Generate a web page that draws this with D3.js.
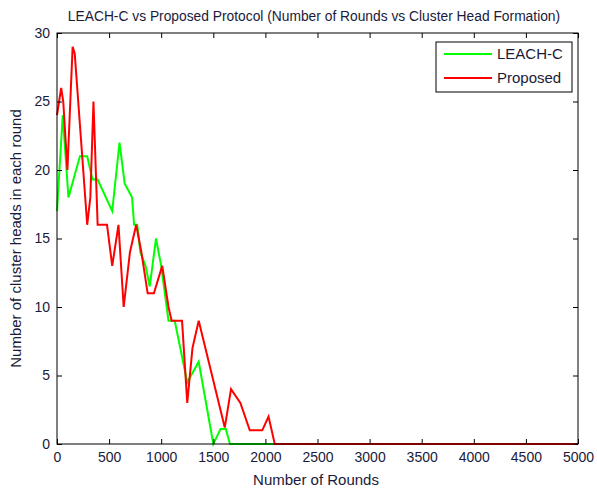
<!DOCTYPE html>
<html><head><meta charset="utf-8">
<script src="https://cdn.jsdelivr.net/npm/d3@7"></script>
<style>body{margin:0;background:#fff}svg text{font-family:"Liberation Sans",Arial,sans-serif}</style>
</head><body><svg id="c" width="597" height="488"></svg>
<script>
const xTicks=[0,500,1000,1500,2000,2500,3000,3500,4000,4500,5000];
const yTicks=[0,5,10,15,20,25,30];
const leachRounds=[0,55,110,220,290,340,390,530,600,650,720,740,770,800,850,890,950,1000,1070,1130,1250,1360,1500,1570,1620,1660,5000];
const leachCH=[17,24,18,21,21,19.3,19.3,17,22,19,18,16,16,14,13,11.5,15,13,9,9,4.5,6,0,1.1,1.1,0,0];
const propRounds=[0,20,40,60,100,150,170,290,320,350,390,480,530,590,640,700,760,810,870,930,1010,1070,1100,1200,1250,1300,1360,1610,1670,1760,1850,1970,2030,2090,5000];
const propCH=[24,25,26,25,20,29,28.5,16,18,25,16,16,13,16,10,14,16,14,11,11,13,10,9,9,3,7,9,1.2,4,3,1,1,2,0,0];
const seriesNames=["LEACH-C","Proposed"];

const svg=d3.select("#c");
const L=57,R=578,T=33,B=444;
const x=d3.scaleLinear().domain([0,5000]).range([L,R]);
const y=d3.scaleLinear().domain([0,30]).range([B,T]);
const txtCol="#1a1a3a";

const line=d3.line().x(d=>x(d[0])).y(d=>y(d[1]));
const g1=leachRounds.map((r,i)=>[r,leachCH[i]]);
const g2=propRounds.map((r,i)=>[r,propCH[i]]);

svg.append("path").datum(g1).attr("d",line).attr("fill","none").attr("stroke","#00ff00").attr("stroke-width",2);
svg.append("path").datum(g2).attr("d",line).attr("fill","none").attr("stroke","#ff0000").attr("stroke-width",2);

svg.append("rect").attr("x",L).attr("y",T).attr("width",R-L).attr("height",B-T).attr("fill","none").attr("stroke","#000").attr("stroke-width",1);

const xb=svg.append("g").attr("transform",`translate(0,${B})`).call(d3.axisBottom(x).tickValues(xTicks).tickSize(-5).tickPadding(8).tickFormat(d3.format("d")));
const xt=svg.append("g").attr("transform",`translate(0,${T})`).call(d3.axisTop(x).tickValues(xTicks).tickSize(-5).tickFormat(""));
const yl=svg.append("g").attr("transform",`translate(${L},0)`).call(d3.axisLeft(y).tickValues(yTicks).tickSize(-5).tickPadding(7));
const yr=svg.append("g").attr("transform",`translate(${R},0)`).call(d3.axisRight(y).tickValues(yTicks).tickSize(-5).tickFormat(""));
[xb,xt,yl,yr].forEach(a=>{a.select(".domain").remove();a.selectAll("line").attr("stroke","#000");a.selectAll("text").attr("fill",txtCol).style("font-size","14px");});

svg.append("text").attr("x",314).attr("y",21).attr("text-anchor","middle").attr("fill",txtCol).style("font-size","13.8px").text("LEACH-C vs Proposed Protocol (Number of Rounds vs Cluster Head Formation)");
svg.append("text").attr("x",316).attr("y",485).attr("text-anchor","middle").attr("fill",txtCol).style("font-size","15px").text("Number of Rounds");
svg.append("text").attr("transform",`translate(21,${(T+B)/2}) rotate(-90)`).attr("text-anchor","middle").attr("fill",txtCol).style("font-size","15px").text("Number of cluster heads in each round");

const lg=svg.append("g");
lg.append("rect").attr("x",436).attr("y",42).attr("width",136).attr("height",50).attr("fill","#fff").attr("stroke","#000");
const cols=["#00ff00","#ff0000"];
seriesNames.forEach((n,i)=>{
  const yy=54+i*24;
  lg.append("line").attr("x1",444).attr("x2",492).attr("y1",yy).attr("y2",yy).attr("stroke",cols[i]).attr("stroke-width",2);
  lg.append("text").attr("x",497).attr("y",yy+5).attr("fill",txtCol).style("font-size","15px").text(n);
});
</script></body></html>
